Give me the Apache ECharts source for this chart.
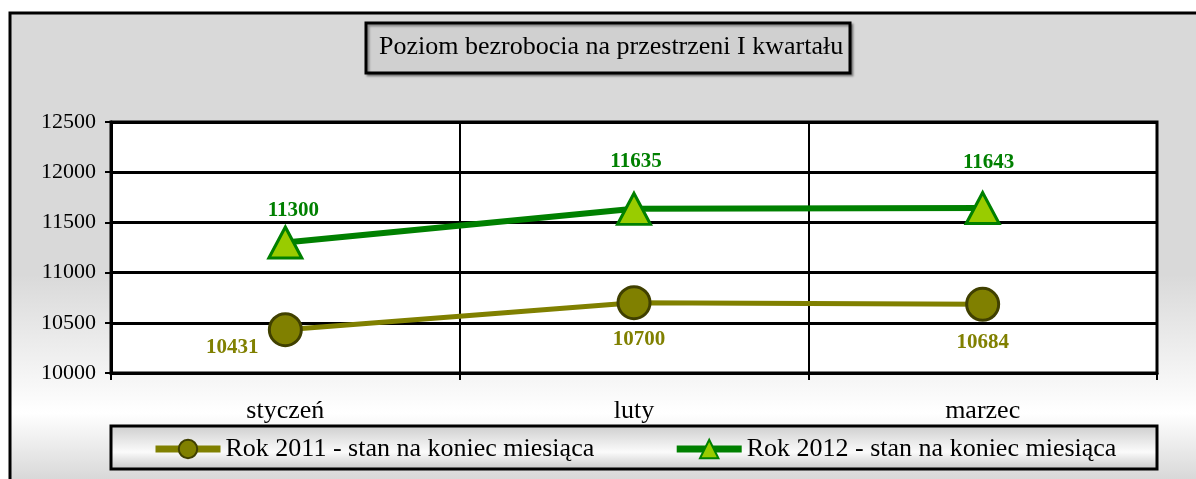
<!DOCTYPE html>
<html>
<head>
<meta charset="utf-8">
<script src="https://cdn.jsdelivr.net/npm/echarts@6/dist/echarts.min.js"></script>
<style>html,body{margin:0;padding:0;background:#fff}#c{width:1196px;height:479px}</style>
</head>
<body>
<div id="c"></div>
<script>
const titleText = 'Poziom bezrobocia na przestrzeni I kwartału';
const categories = ['styczeń', 'luty', 'marzec'];
const seriesNames = ['Rok 2011 - stan na koniec miesiąca', 'Rok 2012 - stan na koniec miesiąca'];
const values2011 = [10431, 10700, 10684];
const values2012 = [11300, 11635, 11643];
const yMin = 10000, yMax = 12500, yStep = 500;

// label offsets (style only)
const offs2011 = [[-53, 18], [5, 37], [0, 38]];
const offs2012 = [[8, -32], [2, -47], [6, -45]];

const SERIF = "Liberation Serif";
const chart = echarts.init(document.getElementById('c'), null, {renderer: 'canvas'});

function mk(vals, offs) {
  return vals.map((v, i) => ({value: v, label: {offset: offs[i]}}));
}

chart.setOption({
  backgroundColor: '#ffffff',
  animation: false,
  graphic: [
    {
      type: 'rect', z: -100, silent: true,
      shape: {x: 10, y: 13, width: 1200, height: 475},
      style: {
        fill: new echarts.graphic.LinearGradient(0, 0, 0, 1, [
          {offset: 0, color: '#d9d9d9'},
          {offset: 0.55, color: '#d9d9d9'},
          {offset: 0.84, color: '#ffffff'},
          {offset: 1, color: '#d2d2d2'}
        ]),
        stroke: '#000', lineWidth: 3
      }
    },
    {
      type: 'rect', z: -50, silent: true,
      shape: {x: 366, y: 23, width: 484, height: 50},
      style: {fill: '#d0d0d0', stroke: '#000', lineWidth: 3,
        shadowColor: 'rgba(0,0,0,0.35)', shadowOffsetX: 2, shadowOffsetY: 2, shadowBlur: 2}
    },
    {
      type: 'rect', z: -50, silent: true,
      shape: {x: 111, y: 426, width: 1046, height: 43},
      style: {
        fill: new echarts.graphic.LinearGradient(0, 0, 0, 1, [
          {offset: 0, color: '#cccccc'},
          {offset: 0.6, color: '#fbfbfb'},
          {offset: 1, color: '#c4c4c4'}
        ]),
        stroke: '#000', lineWidth: 3
      }
    }
  ],
  title: {
    text: titleText,
    left: 379, top: 32, padding: 0,
    textStyle: {fontFamily: SERIF, fontSize: 26, fontWeight: 'normal', color: '#000', lineHeight: 30}
  },
  legend: {
    data: seriesNames,
    left: 152, top: 436, padding: 0,
    itemWidth: 65, itemHeight: 23, itemGap: 79,
    lineStyle: {width: 7},
    textStyle: {fontFamily: SERIF, fontSize: 26, color: '#000'}
  },
  grid: {
    left: 111, right: 39, top: 122, bottom: 106,
    show: true, backgroundColor: '#ffffff', borderColor: '#000', borderWidth: 3
  },
  xAxis: {
    type: 'category', data: categories, boundaryGap: true,
    axisLine: {lineStyle: {color: '#000', width: 3}},
    axisTick: {show: true, length: 7, lineStyle: {color: '#000', width: 2}},
    splitLine: {show: true, lineStyle: {color: '#000', width: 2}},
    axisLabel: {margin: 25, fontFamily: SERIF, fontSize: 26, color: '#000'}
  },
  yAxis: {
    type: 'value', min: yMin, max: yMax, interval: yStep,
    axisLine: {show: true, lineStyle: {color: '#000', width: 3}},
    axisTick: {show: true, length: 6, lineStyle: {color: '#000', width: 2}},
    splitLine: {show: true, lineStyle: {color: '#000', width: 3}},
    axisLabel: {margin: 15, fontFamily: SERIF, fontSize: 22, color: '#000', formatter: (v) => String(v)}
  },
  series: [
    {
      name: seriesNames[0], type: 'line', data: mk(values2011, offs2011),
      symbol: 'circle', symbolSize: 32,
      lineStyle: {color: '#808000', width: 5},
      itemStyle: {color: '#808000', borderColor: '#404000', borderWidth: 3},
      label: {show: true, position: 'inside', fontFamily: SERIF, fontSize: 21, fontWeight: 'bold', color: '#808000'},
      z: 3
    },
    {
      name: seriesNames[1], type: 'line', data: mk(values2012, offs2012),
      symbol: 'triangle', symbolSize: [33, 31],
      lineStyle: {color: '#008000', width: 6},
      itemStyle: {color: '#99cc00', borderColor: '#008000', borderWidth: 3},
      label: {show: true, position: 'inside', fontFamily: SERIF, fontSize: 21, fontWeight: 'bold', color: '#008000'},
      z: 4
    }
  ]
});
</script>
</body>
</html>
